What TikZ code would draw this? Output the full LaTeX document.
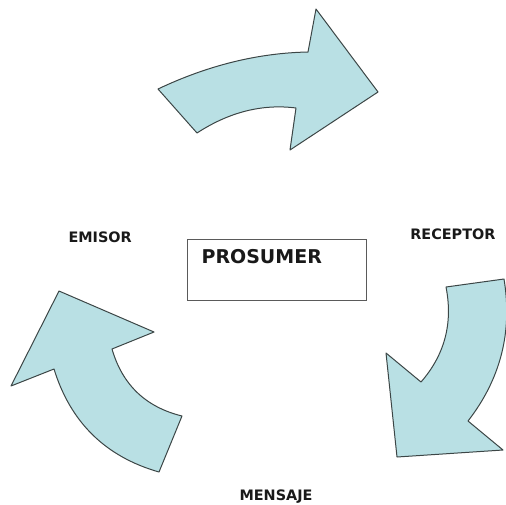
\documentclass[tikz,border=0pt]{standalone}
\usepackage{tikz}
\usepackage{xcolor}
\usepackage{fontspec}
\setmainfont{DejaVu Sans}
\usetikzlibrary{positioning}

\definecolor{arrowfill}{RGB}{185,224,228}
\definecolor{arrowline}{RGB}{60,70,70}
\definecolor{boxline}{RGB}{90,90,90}

\begin{document}
\begin{tikzpicture}[x=1pt, y=-1pt,
        bigarrow/.style={fill=arrowfill, draw=arrowline, line width=1pt, line join=round},
        lbl/.style={font=\fontsize{14.4}{16}\selectfont\bfseries, text=black!90, inner sep=0pt}]
    \useasboundingbox (0,0) rectangle (506,504);

    \node[draw=boxline, line width=1.2pt, anchor=north west, inner ysep=0pt, inner xsep=14pt,
          text width=151pt, align=left, text height=24pt, text depth=37pt,
          font=\fontsize{19}{22}\selectfont\bfseries, text=black!90] (prosumer) at (187,239) {PROSUMER};

    \node[lbl, left=55pt of prosumer.north west, yshift=2pt] (emisor) {EMISOR};
    \node[lbl, right=43pt of prosumer.north east, yshift=5pt] (receptor) {RECEPTOR};
    \node[lbl] (mensaje) at (276,497) {MENSAJE};

    % top arrow
    \draw[bigarrow] (158,89) .. controls (208,65.3) and (258,53) .. (308,52) -- (316,9) -- (378,92)
        -- (290,150) -- (296,108) .. controls (262.3,103.7) and (229.3,112) .. (197,133) -- cycle;
    % right arrow
    \draw[bigarrow] (446,287) -- (504,279) .. controls (512.7,331.5) and (500.7,378.9) .. (468,421)
        -- (503,450) -- (397,457) -- (386,353) -- (421,382) .. controls (444.8,354.7) and (453.1,323) .. cycle;
    % left arrow
    \draw[bigarrow] (59,291) -- (154,332) -- (112,349) .. controls (122.4,384.8) and (145.7,407.1) .. (182,416)
        -- (159,472) .. controls (105.5,456.7) and (70.5,422.4) .. (54,369) -- (11,386) -- cycle;
\end{tikzpicture}
\end{document}
